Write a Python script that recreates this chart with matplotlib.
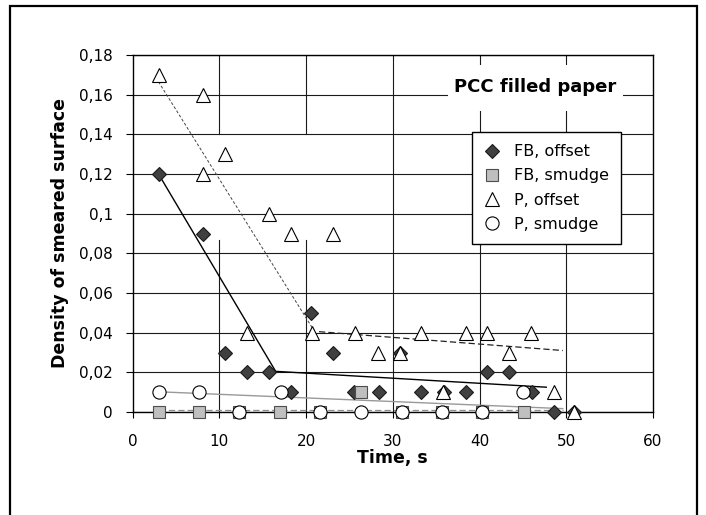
import numpy as np
import matplotlib
matplotlib.use('Agg')
import matplotlib.pyplot as plt
from matplotlib.patches import Rectangle
from matplotlib.ticker import FuncFormatter

# FB, offset
fb_off_t = [3.0, 8.1, 10.7, 13.2, 15.7, 18.3, 20.6, 23.1, 25.5, 28.4, 30.8, 33.3,
            35.9, 38.4, 40.9, 43.4, 46.0, 48.6, 50.9]
fb_off_d = [0.12, 0.09, 0.03, 0.02, 0.02, 0.01, 0.05, 0.03, 0.01, 0.01, 0.03, 0.01,
            0.01, 0.01, 0.02, 0.02, 0.01, 0.0, 0.0]
# FB, smudge
fb_smu_t = [3.0, 7.7, 12.3, 17.0, 21.6, 26.3, 31.1, 35.7, 40.3, 45.1]
fb_smu_d = [0.0, 0.0, 0.0, 0.0, 0.0, 0.01, 0.0, 0.0, 0.0, 0.0]
# P, offset
p_off_t = [3.0, 8.1, 8.1, 10.7, 13.2, 15.7, 18.3, 20.7, 23.1, 25.7, 28.3, 30.8,
           33.3, 35.8, 38.4, 40.9, 43.4, 45.9, 48.6, 50.9]
p_off_d = [0.17, 0.16, 0.12, 0.13, 0.04, 0.10, 0.09, 0.04, 0.09, 0.04, 0.03, 0.03,
           0.04, 0.01, 0.04, 0.04, 0.03, 0.04, 0.01, 0.0]
# P, smudge
p_smu_t = [3.0, 7.7, 12.3, 17.1, 21.6, 26.3, 31.1, 35.7, 40.3, 45.0]
p_smu_d = [0.01, 0.01, 0.0, 0.01, 0.0, 0.0, 0.0, 0.0, 0.0, 0.01]

# trend lines
fb_off_fit_t = [3.0, 16.5, 47.7]
fb_off_fit_d = [0.12, 0.0205, 0.0125]
p_off_fit1_t = [3.0, 21.0]
p_off_fit1_d = [0.1665, 0.0405]
p_off_fit2_t = [21.5, 49.6]
p_off_fit2_d = [0.0405, 0.031]
p_smu_fit_t = [3.0, 49.6]
p_smu_fit_d = [0.0102, 0.0017]
fb_smu_fit_t = [3.0, 49.6]
fb_smu_fit_d = [0.0012, 0.0012]

x_ticks = [0, 10, 20, 30, 40, 50, 60]
y_ticks = [0, 0.02, 0.04, 0.06, 0.08, 0.1, 0.12, 0.14, 0.16, 0.18]

fig = plt.figure(figsize=(7.06, 5.15), dpi=100)
fig.patches.append(Rectangle((10/706, -0.05), 687/706, 1.05 - 6/515,
                             transform=fig.transFigure, fill=False,
                             edgecolor='black', lw=1.6))
ax = fig.add_axes([132.5/706, 1 - 412/515, 520.5/706, 357/515])

ax.set_xlim(0, 60)
ax.set_ylim(0, 0.18)
ax.set_xticks(x_ticks)
ax.set_yticks(y_ticks)
ax.yaxis.set_major_formatter(FuncFormatter(lambda v, p: ('%g' % round(v, 2)).replace('.', ',')))
ax.tick_params(axis='x', direction='out', length=4, width=0.8, pad=12, labelsize=11)
ax.tick_params(axis='y', direction='out', length=5, width=0.8, pad=9, labelsize=11)
for s in ax.spines.values():
    s.set_linewidth(1.0)

ax.set_axisbelow(True)
ax.yaxis.grid(True, color='#1a1a1a', lw=0.8)
# vertical grid (the scan has gaps in the 10 and 20 lines)
for xv in [30, 40, 50]:
    ax.plot([xv, xv], [0, 0.18], color='#1a1a1a', lw=0.8, zorder=0.5)
for xv in [10, 20]:
    ax.plot([xv, xv], [0, 0.0867], color='#1a1a1a', lw=0.8, zorder=0.5)
    ax.plot([xv, xv], [0.14, 0.18], color='#1a1a1a', lw=0.8, zorder=0.5)

# white patch behind the title text
ax.add_patch(Rectangle((36.4, 0.152), 20.1, 0.023, facecolor='white',
                       edgecolor='none', zorder=1))
ax.text(46.4, 0.164, 'PCC filled paper', ha='center', va='center',
        fontsize=13, fontweight='bold', zorder=2)

# trend lines
ax.plot(fb_off_fit_t, fb_off_fit_d, color='black', lw=1.0, zorder=2)
ax.plot(p_off_fit1_t, p_off_fit1_d, color='#444444', lw=0.7, dashes=(3, 2), zorder=2)
ax.plot(p_off_fit2_t, p_off_fit2_d, color='#222222', lw=0.9, dashes=(5, 2.5), zorder=2)
ax.plot(p_smu_fit_t, p_smu_fit_d, color='#999999', lw=1.0, zorder=2)
ax.plot(fb_smu_fit_t, fb_smu_fit_d, color='#8c8c8c', lw=0.9, dashes=(5, 2.5), zorder=2)

# data
ax.plot(fb_off_t, fb_off_d, 'D', ms=7.5, mfc='#404040', mec='#1a1a1a', mew=0.8,
        label='FB, offset', zorder=3, clip_on=False)
ax.plot(fb_smu_t, fb_smu_d, 's', ms=9.2, mfc='#bfbfbf', mec='#4d4d4d', mew=0.8,
        label='FB, smudge', zorder=4, clip_on=False)
ax.plot(p_off_t, p_off_d, '^', ms=9.5, mfc='white', mec='black', mew=0.8,
        label='P, offset', zorder=5, clip_on=False)
ax.plot(p_smu_t, p_smu_d, 'o', ms=9.5, mfc='white', mec='black', mew=0.8,
        label='P, smudge', zorder=6, clip_on=False)

leg = ax.legend(loc='upper left', bbox_to_anchor=(0.652, 0.784), borderaxespad=0,
                fancybox=False, edgecolor='black', framealpha=1, fontsize=11.5,
                handlelength=1.0, handletextpad=0.9, labelspacing=0.58,
                borderpad=0.75)
leg.get_frame().set_linewidth(1.0)
leg.set_zorder(10)

ax.set_xlabel('Time, s', fontsize=12.5, fontweight='bold', labelpad=0)
ax.set_ylabel('Density of smeared surface', fontsize=12.5, fontweight='bold', labelpad=7)

fig.savefig('out.png', dpi=100)
